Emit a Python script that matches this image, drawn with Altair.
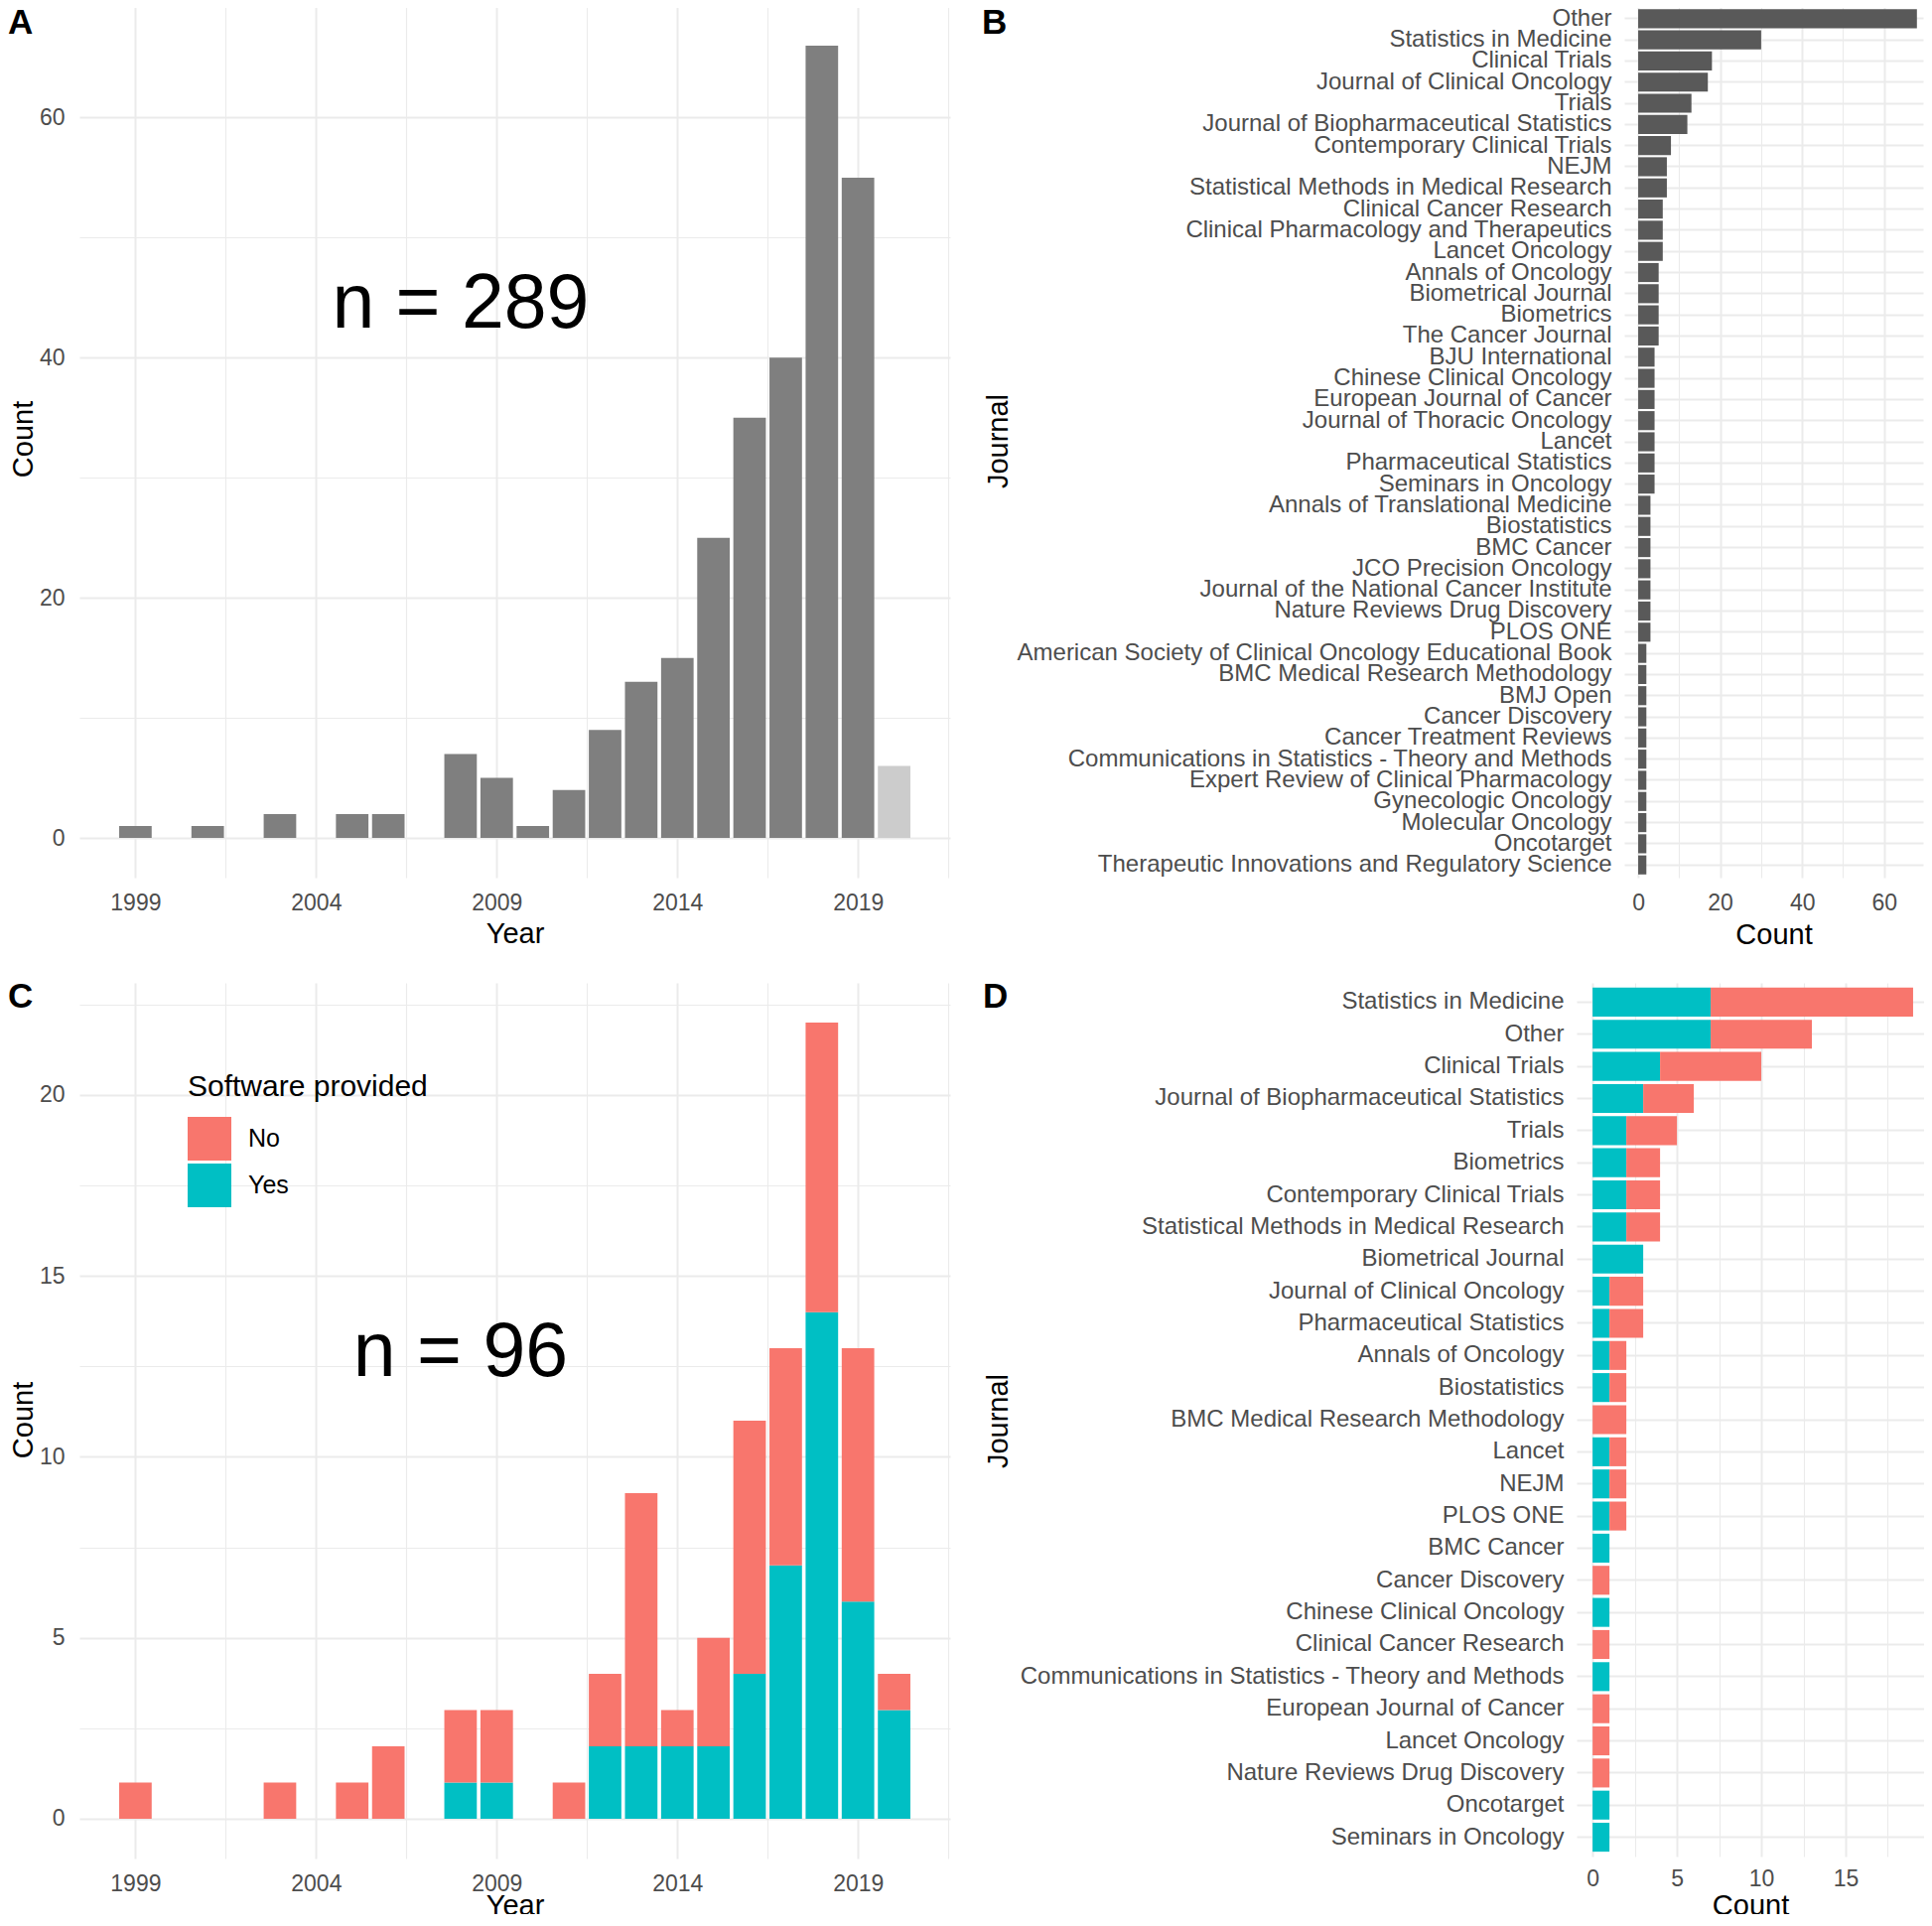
import altair as alt
import pandas as pd

FONT = "Liberation Sans"
GRID = "#EBEBEB"
LABEL_COLOR = "#4D4D4D"
NO_COLOR = "#F8766D"
YES_COLOR = "#00BFC4"

# ---------------- Panel A: publications per year ----------------
years_all = [1999, 2001, 2003, 2005, 2006, 2008, 2009, 2010, 2011, 2012,
             2013, 2014, 2015, 2016, 2017, 2018, 2019, 2020]
counts_all = [1, 1, 2, 2, 2, 7, 5, 1, 4, 9, 13, 15, 25, 35, 40, 66, 55, 6]
partial_year = 2020
total_all_label = "n = 289"

# ---------------- Panel B: journals (all) ----------------
journals_all = [
    "Other", "Statistics in Medicine", "Clinical Trials", "Journal of Clinical Oncology",
    "Trials", "Journal of Biopharmaceutical Statistics", "Contemporary Clinical Trials",
    "NEJM", "Statistical Methods in Medical Research", "Clinical Cancer Research",
    "Clinical Pharmacology and Therapeutics", "Lancet Oncology", "Annals of Oncology",
    "Biometrical Journal", "Biometrics", "The Cancer Journal", "BJU International",
    "Chinese Clinical Oncology", "European Journal of Cancer", "Journal of Thoracic Oncology",
    "Lancet", "Pharmaceutical Statistics", "Seminars in Oncology",
    "Annals of Translational Medicine", "Biostatistics", "BMC Cancer", "JCO Precision Oncology",
    "Journal of the National Cancer Institute", "Nature Reviews Drug Discovery", "PLOS ONE",
    "American Society of Clinical Oncology Educational Book", "BMC Medical Research Methodology",
    "BMJ Open", "Cancer Discovery", "Cancer Treatment Reviews",
    "Communications in Statistics - Theory and Methods", "Expert Review of Clinical Pharmacology",
    "Gynecologic Oncology", "Molecular Oncology", "Oncotarget",
    "Therapeutic Innovations and Regulatory Science",
]
journal_counts_all = [68, 30, 18, 17, 13, 12, 8, 7, 7, 6, 6, 6, 5, 5, 5, 5, 4, 4, 4, 4, 4, 4, 4,
                      3, 3, 3, 3, 3, 3, 3, 2, 2, 2, 2, 2, 2, 2, 2, 2, 2, 2]

# ---------------- Panel C: software provided per year ----------------
years_sw = [1999, 2003, 2005, 2006, 2008, 2009, 2011, 2012, 2013, 2014, 2015, 2016,
            2017, 2018, 2019, 2020]
yes_sw = [0, 0, 0, 0, 1, 1, 0, 2, 2, 2, 2, 4, 7, 14, 6, 3]
no_sw = [1, 1, 1, 2, 2, 2, 1, 2, 7, 1, 3, 7, 6, 8, 7, 1]
total_sw_label = "n = 96"

# ---------------- Panel D: software provided per journal ----------------
journals_sw = [
    "Statistics in Medicine", "Other", "Clinical Trials", "Journal of Biopharmaceutical Statistics",
    "Trials", "Biometrics", "Contemporary Clinical Trials", "Statistical Methods in Medical Research",
    "Biometrical Journal", "Journal of Clinical Oncology", "Pharmaceutical Statistics",
    "Annals of Oncology", "Biostatistics", "BMC Medical Research Methodology", "Lancet", "NEJM",
    "PLOS ONE", "BMC Cancer", "Cancer Discovery", "Chinese Clinical Oncology",
    "Clinical Cancer Research", "Communications in Statistics - Theory and Methods",
    "European Journal of Cancer", "Lancet Oncology", "Nature Reviews Drug Discovery",
    "Oncotarget", "Seminars in Oncology",
]
yes_j = [7, 7, 4, 3, 2, 2, 2, 2, 3, 1, 1, 1, 1, 0, 1, 1, 1, 1, 0, 1, 0, 1, 0, 0, 0, 1, 1]
no_j = [12, 6, 6, 3, 3, 2, 2, 2, 0, 2, 2, 1, 1, 2, 1, 1, 1, 0, 1, 0, 1, 0, 1, 1, 1, 0, 0]

status_levels = ["No", "Yes"]
year_ticks = [1999, 2004, 2009, 2014, 2019]

# ---------------- data frames ----------------
df_a = pd.DataFrame({"year": years_all, "count": counts_all})
df_b = pd.DataFrame({"journal": journals_all, "count": journal_counts_all})

rows_c = []
for y, ys, ns in zip(years_sw, yes_sw, no_sw):
    if ys:
        rows_c.append({"year": y, "status": "Yes", "count": ys, "ord": 0})
    if ns:
        rows_c.append({"year": y, "status": "No", "count": ns, "ord": 1})
df_c = pd.DataFrame(rows_c)

rows_d = []
for j, ys, ns in zip(journals_sw, yes_j, no_j):
    if ys:
        rows_d.append({"journal": j, "status": "Yes", "count": ys, "ord": 0})
    if ns:
        rows_d.append({"journal": j, "status": "No", "count": ns, "ord": 1})
df_d = pd.DataFrame(rows_d)


def grid_width(test):
    return {"condition": {"test": test, "value": 2}, "value": 1.1}


year_minor = [t + 2.5 for t in year_ticks] + [year_ticks[0] - 2.5]
year_values = sorted(year_ticks + year_minor)
year_major_test = "abs(((datum.value - 1999) % 5)) < 0.01"


def year_axis(title_y):
    return alt.Axis(title="Year", values=year_values, format="d",
                    labelExpr=f"{year_major_test} ? datum.label : ''",
                    gridWidth=grid_width(year_major_test),
                    labelPadding=14, titleY=title_y, titleBaseline="top")


def count_axis_left(values, major_test, title_y):
    return alt.Axis(title="Count", values=values,
                    labelExpr=f"{major_test} ? datum.label : ''",
                    gridWidth=grid_width(major_test),
                    labelPadding=15, titleX=-42, titleY=title_y,
                    titleAngle=270, titleAlign="center", titleBaseline="bottom")


year_scale = alt.Scale(domain=[1997.45, 2021.55], nice=False, zero=False)

# ---------------- Panel A ----------------
W_LEFT = 877
H_TOP = 878
H_BOT = 882

x_a = alt.X("x0:Q", scale=year_scale, axis=year_axis(42))
y_a_scale = alt.Scale(domain=[-3.3, 69.3], nice=False, zero=False)
y_a_axis = count_axis_left([0, 10, 20, 30, 40, 50, 60], "datum.value % 20 === 0", 436)

bars_a = alt.Chart(df_a).transform_calculate(
    x0="datum.year - 0.45", x1="datum.year + 0.45"
).mark_bar().encode(
    x=x_a,
    x2="x1:Q",
    y=alt.Y("count:Q", scale=y_a_scale, axis=y_a_axis),
    y2=alt.datum(0),
    color=alt.condition(f"datum.year === {partial_year}", alt.value("#CCCCCC"), alt.value("#7F7F7F")),
)

note_a = alt.Chart(pd.DataFrame({"x0": [2008], "count": [42.5], "label": [total_all_label]})).mark_text(
    font=FONT, fontSize=77, align="center", baseline="alphabetic", color="black"
).encode(
    x=x_a,
    y=alt.Y("count:Q", scale=y_a_scale, axis=y_a_axis),
    text="label:N",
)


def letter(ch, dx, dy):
    return alt.Chart(pd.DataFrame({"panel": [ch]})).mark_text(
        font=FONT, fontSize=35, fontWeight="bold", align="left", baseline="top", color="black"
    ).encode(text="panel:N", x=alt.value(dx), y=alt.value(dy))


panel_a = alt.layer(bars_a, note_a, letter("A", -72, 0)).properties(width=W_LEFT, height=H_TOP)

# ---------------- Panel B ----------------
W_B = 301
band_scale = alt.Scale(paddingInner=0.1, paddingOuter=0.15)

bars_b = alt.Chart(df_b).mark_bar(color="#595959").encode(
    x=alt.X("count:Q", scale=alt.Scale(domain=[-3.4, 69.5], nice=False, zero=False),
            axis=alt.Axis(title="Count", values=[0, 10, 20, 30, 40, 50, 60],
                          labelExpr="datum.value % 20 === 0 ? datum.label : ''",
                          gridWidth=grid_width("datum.value % 20 === 0"),
                          labelPadding=14, titleY=43, titleBaseline="top")),
    y=alt.Y("journal:N", sort=journals_all, scale=band_scale,
            axis=alt.Axis(title="Journal", labelFontSize=24, labelLimit=1000, labelPadding=13,
                          bandPosition=0.5, gridWidth=2,
                          titleX=-616, titleY=438, titleAngle=270, titleAlign="center",
                          titleBaseline="bottom")),
)
panel_b = alt.layer(bars_b, letter("B", -647, 0)).properties(width=W_B, height=H_TOP)

# ---------------- Panel C ----------------
color_scale = alt.Scale(domain=status_levels, range=[NO_COLOR, YES_COLOR])
x_c = alt.X("x0:Q", scale=year_scale, axis=year_axis(33))
y_c_scale = alt.Scale(domain=[-1.1, 23.1], nice=False, zero=False)
c_vals = [0, 2.5, 5, 7.5, 10, 12.5, 15, 17.5, 20, 22.5]
y_c_axis = count_axis_left(c_vals, "datum.value % 5 === 0", 440)

bars_c = alt.Chart(df_c).transform_stack(
    stack="count", groupby=["year"], as_=["y0", "y1"], sort=[alt.SortField("ord", order="ascending")]
).transform_calculate(
    x0="datum.year - 0.45", x1="datum.year + 0.45"
).mark_bar().encode(
    x=x_c,
    x2="x1:Q",
    y=alt.Y("y1:Q", scale=y_c_scale, axis=y_c_axis),
    y2="y0:Q",
    color=alt.Color("status:N", scale=color_scale,
                    legend=alt.Legend(title="Software provided", orient="none",
                                      legendX=109, legendY=90, padding=0,
                                      titleFontSize=30, titleFontWeight="normal", titleColor="black",
                                      titlePadding=15, titleLimit=1000, labelFontSize=25,
                                      labelColor="black", labelLimit=1000,
                                      labelOffset=17, symbolType="square", symbolSize=1936,
                                      symbolStrokeWidth=0, symbolOpacity=1, rowPadding=3,
                                      titleFont=FONT, labelFont=FONT)),
)

note_c = alt.Chart(pd.DataFrame({"x0": [2008], "y1": [12.24], "label": [total_sw_label]})).mark_text(
    font=FONT, fontSize=77, align="center", baseline="alphabetic", color="black"
).encode(
    x=x_c,
    y=alt.Y("y1:Q", scale=y_c_scale, axis=y_c_axis),
    text="label:N",
)

panel_c = alt.layer(bars_c, note_c, letter("C", -72, -3)).properties(width=W_LEFT, height=H_BOT)

# ---------------- Panel D ----------------
W_D = 350
bars_d = alt.Chart(df_d).mark_bar().encode(
    x=alt.X("count:Q", stack="zero",
            scale=alt.Scale(domain=[-0.95, 19.65], nice=False, zero=False),
            axis=alt.Axis(title="Count", values=[0, 2.5, 5, 7.5, 10, 12.5, 15, 17.5],
                          labelExpr="datum.value % 5 === 0 ? datum.label : ''",
                          gridWidth=grid_width("datum.value % 5 === 0"),
                          labelPadding=11, titleY=35, titleBaseline="top")),
    y=alt.Y("journal:N", sort=journals_sw, scale=band_scale,
            axis=alt.Axis(title="Journal", labelFontSize=24, labelLimit=1000, labelPadding=13,
                          bandPosition=0.5, gridWidth=2,
                          titleX=-568, titleY=441, titleAngle=270, titleAlign="center",
                          titleBaseline="bottom")),
    color=alt.Color("status:N", scale=color_scale, legend=None),
    order=alt.Order("ord:Q", sort="ascending"),
)
panel_d = alt.layer(bars_d, letter("D", -598, -3)).properties(width=W_D, height=880)

# ---------------- layout ----------------
row1 = alt.hconcat(panel_a, panel_b, spacing=1636 - 957, bounds="flush")
row2 = alt.hconcat(panel_c, panel_d, spacing=1588 - 957, bounds="flush").resolve_scale(
    color="independent"
).resolve_legend(color="independent")

chart = alt.vconcat(row1, row2, spacing=31).properties(
    padding={"left": 0, "top": -2, "right": 0, "bottom": -6}
).configure(
    font=FONT
).configure_view(
    stroke=None
).configure_axis(
    labelFont=FONT, titleFont=FONT, labelColor=LABEL_COLOR, titleColor="black",
    labelFontSize=23, titleFontSize=29, titleFontWeight="normal",
    domain=False, ticks=False, gridColor=GRID, grid=True,
    labelFlush=False, labelOverlap=False, labelBound=False,
)

chart.save("out.html", embed_options={"renderer": "svg", "actions": False})
